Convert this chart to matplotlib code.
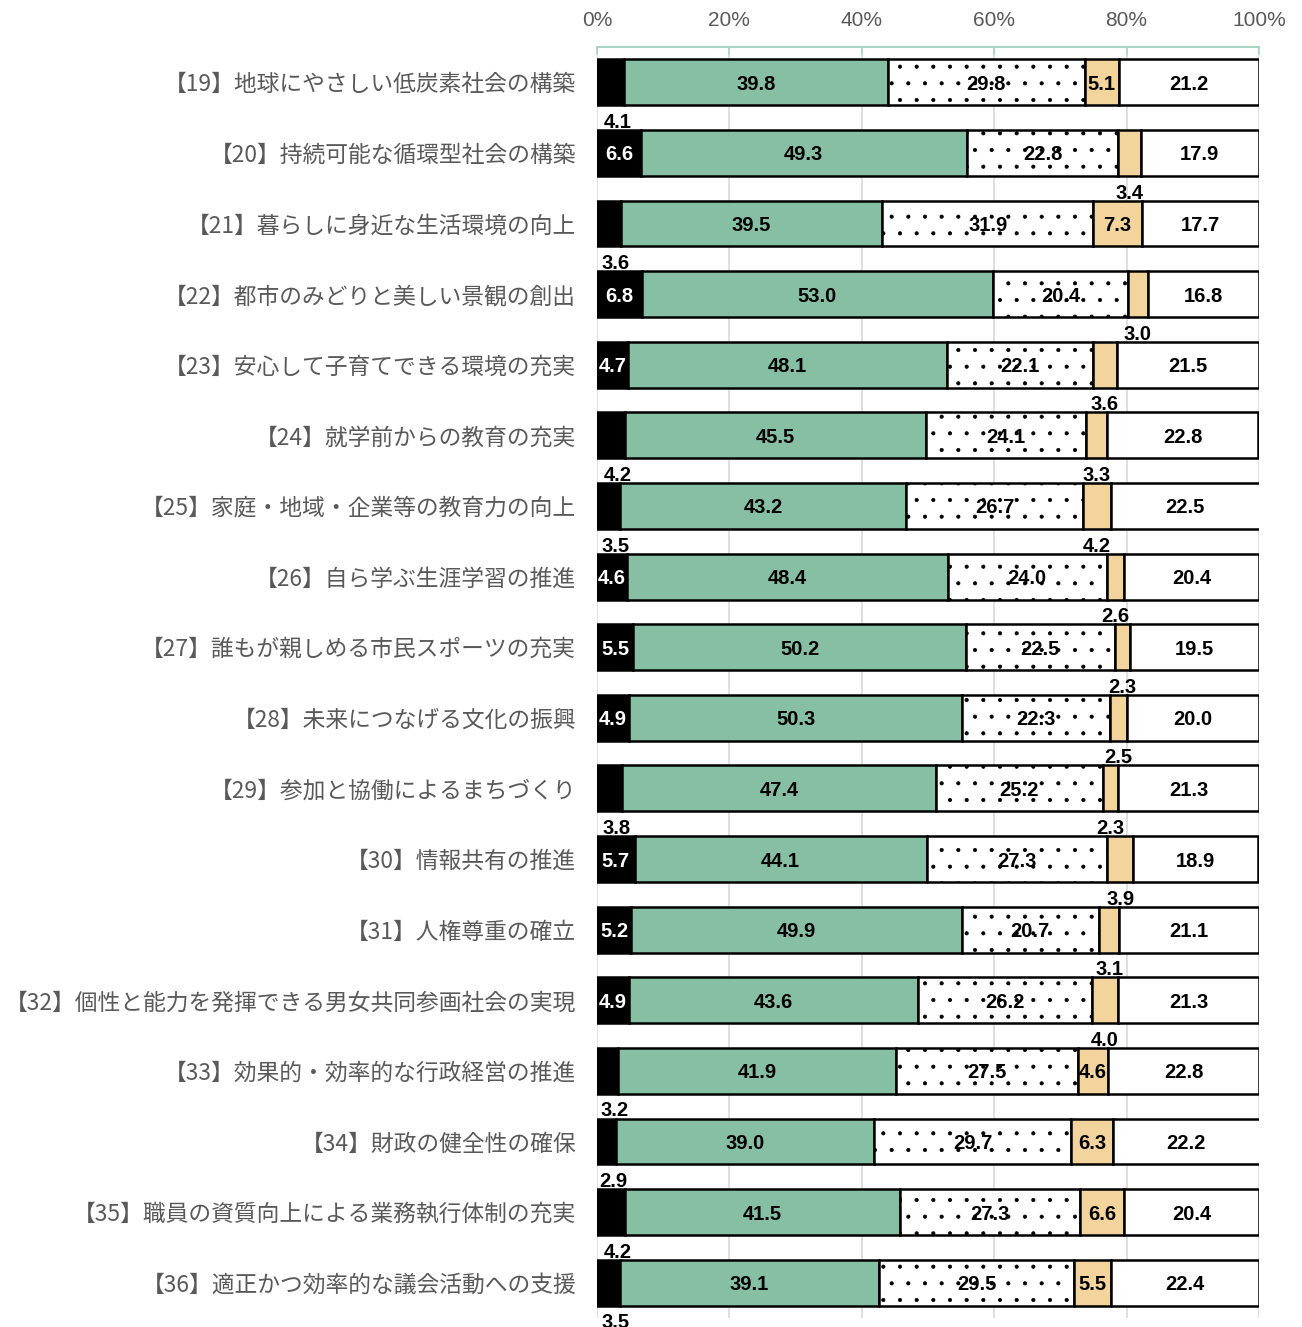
import matplotlib
matplotlib.use("Agg")
import matplotlib.pyplot as plt
import numpy as np

plt.rcParams['font.family'] = ['Noto Sans CJK JP', 'DejaVu Sans']
plt.rcParams['hatch.linewidth'] = 0.5

labels = [
    "【19】地球にやさしい低炭素社会の構築",
    "【20】持続可能な循環型社会の構築",
    "【21】暮らしに身近な生活環境の向上",
    "【22】都市のみどりと美しい景観の創出",
    "【23】安心して子育てできる環境の充実",
    "【24】就学前からの教育の充実",
    "【25】家庭・地域・企業等の教育力の向上",
    "【26】自ら学ぶ生涯学習の推進",
    "【27】誰もが親しめる市民スポーツの充実",
    "【28】未来につなげる文化の振興",
    "【29】参加と協働によるまちづくり",
    "【30】情報共有の推進",
    "【31】人権尊重の確立",
    "【32】個性と能力を発揮できる男女共同参画社会の実現",
    "【33】効果的・効率的な行政経営の推進",
    "【34】財政の健全性の確保",
    "【35】職員の資質向上による業務執行体制の充実",
    "【36】適正かつ効率的な議会活動への支援",
]

s1 = [4.1, 6.6, 3.6, 6.8, 4.7, 4.2, 3.5, 4.6, 5.5, 4.9, 3.8, 5.7, 5.2, 4.9, 3.2, 2.9, 4.2, 3.5]
s2 = [39.8, 49.3, 39.5, 53.0, 48.1, 45.5, 43.2, 48.4, 50.2, 50.3, 47.4, 44.1, 49.9, 43.6, 41.9, 39.0, 41.5, 39.1]
s3 = [29.8, 22.8, 31.9, 20.4, 22.1, 24.1, 26.7, 24.0, 22.5, 22.3, 25.2, 27.3, 20.7, 26.2, 27.5, 29.7, 27.3, 29.5]
s4 = [5.1, 3.4, 7.3, 3.0, 3.6, 3.3, 4.2, 2.6, 2.3, 2.5, 2.3, 3.9, 3.1, 4.0, 4.6, 6.3, 6.6, 5.5]
s5 = [21.2, 17.9, 17.7, 16.8, 21.5, 22.8, 22.5, 20.4, 19.5, 20.0, 21.3, 18.9, 21.1, 21.3, 22.8, 22.2, 20.4, 22.4]

series = [s1, s2, s3, s4, s5]
colors = ['#000000', '#86BFA4', '#FFFFFF', '#F2D49C', '#FFFFFF']
hatches = [None, None, '.', None, None]
txt_colors = ['white', 'black', 'black', 'black', 'black']

num_font = ['Liberation Sans', 'DejaVu Sans']

fig = plt.figure(figsize=(13.02, 13.27), dpi=100)
ax = fig.add_axes([597 / 1302, 1 - 1318 / 1327, 662 / 1302, (1318 - 47) / 1327])

y = np.arange(len(labels))
left = np.zeros(len(labels))
h = 0.65

for i, vals in enumerate(series):
    vals = np.array(vals)
    ax.barh(y, vals, left=left, height=h, color=colors[i], edgecolor='black',
            linewidth=1.8, hatch=hatches[i], zorder=3)
    for j, v in enumerate(vals):
        cx = left[j] + v / 2
        if i in (0, 3) and v < 4.5:
            # small segments: label goes under the bar
            tx = cx + 1.0 if i == 0 else cx
            ax.text(tx, y[j] + 0.54, f"{v:.1f}", ha='center', va='center_baseline',
                    fontsize=14.5, fontweight='bold', family=num_font, color='black', zorder=5)
        else:
            ax.text(cx, y[j], f"{v:.1f}", ha='center', va='center_baseline',
                    fontsize=14.5, fontweight='bold', family=num_font,
                    color=txt_colors[i], zorder=5)
    left = left + vals

ax.set_xlim(0, 100)
ax.set_ylim(len(labels) - 0.5, -0.5)
ax.set_yticks(y)
ax.set_yticklabels(labels, fontsize=16.4, color='#595959')
ax.tick_params(axis='y', length=0, pad=15)

ax.xaxis.tick_top()
ax.set_xticks(np.arange(0, 101, 20))
ax.set_xticklabels([f"{t}%" for t in range(0, 101, 20)], fontsize=15, color='#595959',
                   family=['Liberation Sans', 'DejaVu Sans'])
ax.tick_params(axis='x', direction='in', length=6, color='#A9D5C3', width=1.2, pad=12)

ax.grid(axis='x', color='#D9D9D9', linewidth=1.2, zorder=0)
for sp in ['left', 'right', 'bottom']:
    ax.spines[sp].set_visible(False)
ax.spines['top'].set_color('#A9D5C3')
ax.spines['top'].set_linewidth(1.5)

fig.savefig('out.png', dpi=100)
